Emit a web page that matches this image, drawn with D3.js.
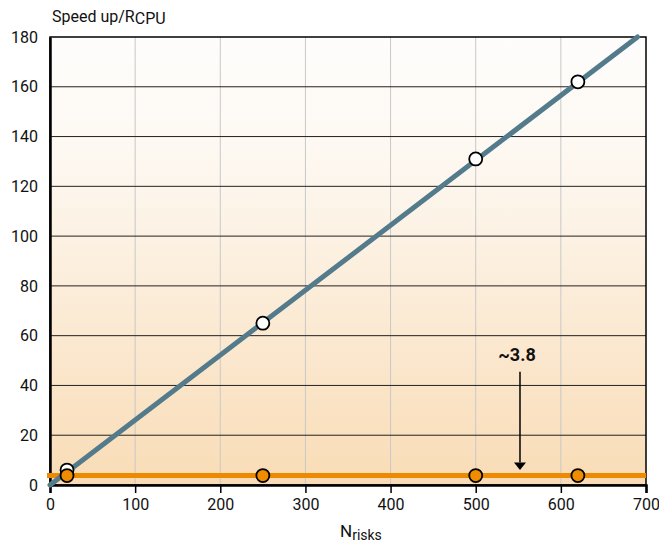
<!DOCTYPE html>
<html>
<head>
<meta charset="utf-8">
<script src="https://cdn.jsdelivr.net/npm/d3@7"></script>
<style>
  body { margin: 0; background: #fff; }
  text { font-family: "Liberation Sans Narrow", "Roboto", "Liberation Sans", sans-serif; fill: #111; }
</style>
</head>
<body>
<svg id="chart" width="659" height="544"></svg>
<script>
// data
const gpuX = [20, 250, 500, 620];
const gpuY = [6, 65, 131, 162];
const fitLine = [[0, 0], [690, 180]];
const cpuX = [20, 250, 500, 620];
const cpuY = [3.8, 3.8, 3.8, 3.8];
const cpuLevel = 3.8;
const xTicks = [0, 100, 200, 300, 400, 500, 600, 700];
const yTicks = [0, 20, 40, 60, 80, 100, 120, 140, 160, 180];

const svg = d3.select("#chart");
const padL = 50, padR = 646, padT = 37, padB = 485;

const x = d3.scaleLinear().domain([0, 700]).range([padL, padR]);
const y = d3.scaleLinear().domain([0, 180]).range([padB, padT]);

// background gradient
const grad = svg.append("defs").append("linearGradient")
    .attr("id", "bg").attr("x1", 0).attr("y1", 0).attr("x2", 0).attr("y2", 1);
grad.append("stop").attr("offset", "0%").attr("stop-color", "#fefdfc");
grad.append("stop").attr("offset", "30%").attr("stop-color", "#fdf7ef");
grad.append("stop").attr("offset", "100%").attr("stop-color", "#f9dcb6");

svg.append("rect")
    .attr("x", padL).attr("y", padT)
    .attr("width", padR - padL).attr("height", padB - padT)
    .attr("fill", "url(#bg)");

// vertical grid
svg.selectAll(".vgrid").data(xTicks.slice(1, -1)).enter().append("line")
    .attr("x1", d => x(d)).attr("x2", d => x(d))
    .attr("y1", padT).attr("y2", padB)
    .attr("stroke", "#c8c8c8").attr("stroke-width", 1);

// horizontal grid
svg.selectAll(".hgrid").data(yTicks.slice(1, -1)).enter().append("line")
    .attr("x1", padL).attr("x2", padR)
    .attr("y1", d => y(d)).attr("y2", d => y(d))
    .attr("stroke", "#222").attr("stroke-width", 1);

// frame
svg.append("rect")
    .attr("x", padL).attr("y", padT)
    .attr("width", padR - padL).attr("height", padB - padT)
    .attr("fill", "none").attr("stroke", "#000").attr("stroke-width", 1.5);

// x axis
const xAxis = svg.append("g")
    .attr("transform", `translate(0,${padB})`)
    .call(d3.axisBottom(x).tickValues(xTicks).tickSize(8).tickPadding(6));
xAxis.select(".domain").attr("stroke", "#000").attr("stroke-width", 2.5);
xAxis.selectAll(".tick line").attr("stroke", "#000").attr("stroke-width", 1.5);
xAxis.selectAll("text").style("font-size", "16px").attr("fill", "#111");

// y axis
const yAxis = svg.append("g")
    .attr("transform", `translate(${padL},0)`)
    .call(d3.axisLeft(y).tickValues(yTicks).tickSize(0).tickPadding(12));
yAxis.select(".domain").attr("stroke", "#000").attr("stroke-width", 2.5);
yAxis.selectAll("text").style("font-size", "16px").attr("fill", "#111");

// CPU level line
svg.append("line")
    .attr("x1", x(0) - 3).attr("x2", x(700))
    .attr("y1", y(cpuLevel)).attr("y2", y(cpuLevel))
    .attr("stroke", "#ee8a00").attr("stroke-width", 5);

// fit line
svg.append("path")
    .datum(fitLine)
    .attr("d", d3.line().x(d => x(d[0])).y(d => y(d[1])))
    .attr("stroke", "#547b8c").attr("stroke-width", 5)
    .attr("stroke-linecap", "round").attr("fill", "none");

// GPU points
svg.selectAll(".gpu").data(gpuX).enter().append("circle")
    .attr("cx", d => x(d)).attr("cy", (d, i) => y(gpuY[i]))
    .attr("r", 6.5)
    .attr("fill", "#fff").attr("stroke", "#000").attr("stroke-width", 1.8);

// CPU points
svg.selectAll(".cpu").data(cpuX).enter().append("circle")
    .attr("cx", d => x(d)).attr("cy", (d, i) => y(cpuY[i]))
    .attr("r", 6.5)
    .attr("fill", "#ef8c00").attr("stroke", "#000").attr("stroke-width", 1.8);

// annotation arrow
const arrowX = x(552);
svg.append("line")
    .attr("x1", arrowX).attr("x2", arrowX)
    .attr("y1", y(45.5)).attr("y2", y(9))
    .attr("stroke", "#000").attr("stroke-width", 1.5);
svg.append("path")
    .attr("d", `M${arrowX - 6},${y(9)} L${arrowX + 6},${y(9)} L${arrowX},${y(6)} Z`)
    .attr("fill", "#000");
svg.append("text")
    .attr("x", arrowX - 3).attr("y", y(50))
    .attr("text-anchor", "middle")
    .style("font-size", "18px").style("font-weight", "bold")
    .text("~3.8");

// axis titles
const yt = svg.append("text").attr("x", 52).attr("y", 22).style("font-size", "16px");
yt.append("tspan").text("Speed up/R");
yt.append("tspan").attr("dy", 2).text("CPU");

const xt = svg.append("text").attr("x", 340).attr("y", 537).style("font-size", "17px");
xt.append("tspan").text("N");
xt.append("tspan").attr("dy", 3).style("font-size", "14px").text("risks");
</script>
</body>
</html>
